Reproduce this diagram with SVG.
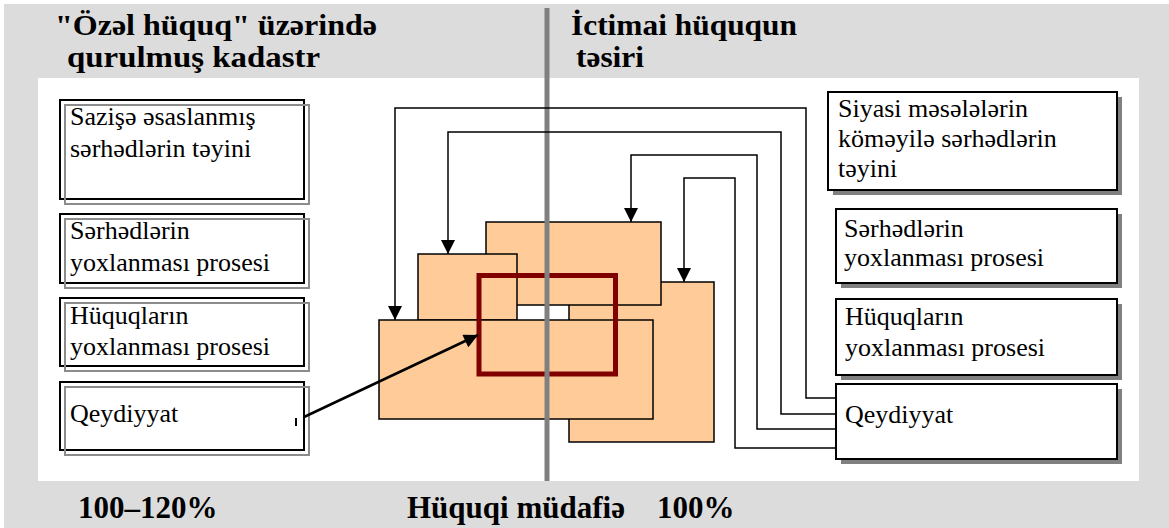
<svg xmlns="http://www.w3.org/2000/svg" width="1169" height="528" viewBox="0 0 1169 528">
<style>
.hdr{font-family:"Liberation Serif","DejaVu Serif","Times New Roman",serif;font-weight:bold;font-size:29px;fill:#000}
.t{font-family:"Liberation Serif","DejaVu Serif","Times New Roman",serif;font-size:26px;fill:#000}
.lb{fill:#fff;stroke:#000;stroke-width:2}
.lb2{fill:none;stroke:#8c8c8c;stroke-width:2}
.rb{fill:#fff;stroke:#000;stroke-width:2}
.sh{fill:#808080}
.or{fill:#ffcc99;stroke:#000;stroke-width:1.5}
.c{fill:none;stroke:#000;stroke-width:1.5}
</style>
<defs>
<marker id="arr" viewBox="0 0 10 10" refX="10" refY="5" markerUnits="userSpaceOnUse" markerWidth="15" markerHeight="14" orient="auto">
<path d="M0,0 L10,5 L0,10 z" fill="#000"/>
</marker>
</defs>
<rect x="0" y="0" width="1169" height="528" fill="#fff"/>
<rect x="4" y="4" width="1165" height="524" fill="#dcdcdc"/>
<rect x="38" y="78" width="1101" height="403" fill="#fff"/>

<g id="headers">
<text class="hdr" x="55" y="35" textLength="322" lengthAdjust="spacingAndGlyphs">"Özəl hüquq" üzərində</text>
<text class="hdr" x="67" y="67" textLength="253" lengthAdjust="spacingAndGlyphs">qurulmuş kadastr</text>
<text class="hdr" x="571" y="35" textLength="226" lengthAdjust="spacingAndGlyphs">İctimai hüququn</text>
<text class="hdr" x="576" y="67" textLength="68" lengthAdjust="spacingAndGlyphs">təsiri</text>
</g>

<g id="shapes">
<rect class="or" x="569" y="282" width="145" height="160"/>
<rect class="or" x="486" y="222" width="175" height="83"/>
<rect class="or" x="418" y="254" width="99" height="66"/>
<rect class="or" x="379" y="320" width="274" height="99"/>
<rect x="479" y="275.5" width="136.5" height="98.5" fill="none" stroke="#800000" stroke-width="5"/>
</g>

<rect x="544.5" y="8" width="5" height="473" fill="#808080"/>

<g id="left1">
<rect class="lb" x="60" y="100" width="244" height="99"/>
<rect class="lb2" x="65" y="105" width="244" height="99"/>
<text class="t" x="70" y="125">Sazişə əsaslanmış</text>
<text class="t" x="70" y="157">sərhədlərin təyini</text>
</g>
<g id="left2">
<rect class="lb" x="60" y="214" width="244" height="69"/>
<rect class="lb2" x="65" y="219" width="244" height="69"/>
<text class="t" x="70" y="239">Sərhədlərin</text>
<text class="t" x="70" y="271">yoxlanması prosesi</text>
</g>
<g id="left3">
<rect class="lb" x="60" y="298" width="244" height="68"/>
<rect class="lb2" x="65" y="303" width="244" height="68"/>
<text class="t" x="70" y="324">Hüquqların</text>
<text class="t" x="70" y="355">yoxlanması prosesi</text>
</g>
<g id="left4">
<rect class="lb" x="60" y="382" width="244" height="68"/>
<rect class="lb2" x="65" y="387" width="244" height="68"/>
<text class="t" x="70" y="422">Qeydiyyat</text>
<line x1="296" y1="418" x2="296" y2="426" stroke="#000" stroke-width="2"/>
</g>

<g id="right1">
<rect class="sh" x="833" y="97" width="289" height="98"/>
<rect class="rb" x="828" y="92" width="289" height="98"/>
<text class="t" x="838" y="117">Siyasi məsələlərin</text>
<text class="t" x="838" y="147">köməyilə sərhədlərin</text>
<text class="t" x="838" y="177">təyini</text>
</g>
<g id="right2">
<rect class="sh" x="841" y="214" width="281" height="74"/>
<rect class="rb" x="836" y="209" width="281" height="74"/>
<text class="t" x="844" y="237">Sərhədlərin</text>
<text class="t" x="844" y="266">yoxlanması prosesi</text>
</g>
<g id="right3">
<rect class="sh" x="841" y="304" width="281" height="76"/>
<rect class="rb" x="836" y="299" width="281" height="76"/>
<text class="t" x="845" y="325">Hüquqların</text>
<text class="t" x="845" y="356">yoxlanması prosesi</text>
</g>
<g id="right4">
<rect class="sh" x="841" y="389" width="281" height="75"/>
<rect class="rb" x="836" y="384" width="281" height="75"/>
<text class="t" x="845" y="423">Qeydiyyat</text>
</g>

<g id="connectors">
<polyline class="c" points="836,398 806,398 806,108 395,108 395,320" marker-end="url(#arr)"/>
<polyline class="c" points="836,414 781,414 781,132 448,132 448,254" marker-end="url(#arr)"/>
<polyline class="c" points="836,429 757,429 757,155 631,155 631,222" marker-end="url(#arr)"/>
<polyline class="c" points="836,448 735,448 735,178 684,178 684,282" marker-end="url(#arr)"/>
<line x1="304" y1="417" x2="478" y2="335" stroke="#000" stroke-width="2.5" marker-end="url(#arr)"/>
</g>

<g id="footer">
<text class="hdr" x="78" y="518" style="font-size:31px">100–120%</text>
<text class="hdr" y="518" style="font-size:31px"><tspan x="407">Hüquqi müdafiə</tspan><tspan x="657">100%</tspan></text>
</g>
</svg>
